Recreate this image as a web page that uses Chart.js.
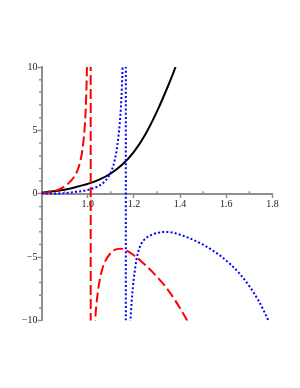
<!DOCTYPE html>
<html><head><meta charset="utf-8">
<script src="https://cdn.jsdelivr.net/npm/chart.js@4/dist/chart.umd.min.js"></script>
<style>html,body{margin:0;padding:0;background:#fff}</style>
</head><body>
<canvas id="c" width="300" height="388"></canvas>
<script>
// ---- data ----
const xTickValues = [1.0, 1.2, 1.4, 1.6, 1.8];
const xMinorTicks = [0.9, 1.1, 1.3, 1.5, 1.7];
const yTickValues = [-10, -5, 0, 5, 10];
const yMinorTicks = [-9, -8, -7, -6, -4, -3, -2, -1, 1, 2, 3, 4, 6, 7, 8, 9];

const blackX = [0.80, 0.85, 0.90, 0.95, 1.00, 1.05, 1.10, 1.15, 1.20, 1.25, 1.30, 1.35, 1.38, 1.40];
const blackY = [0.10, 0.19, 0.32, 0.53, 0.78, 1.12, 1.60, 2.30, 3.30, 4.70, 6.50, 8.60, 10.0, 11.2];

const redLeftX = [0.80, 0.84, 0.87, 0.90, 0.92, 0.94, 0.955, 0.965, 0.973, 0.98, 0.986, 0.991, 0.995, 0.9985, 1.003];
const redLeftY = [0.04, 0.14, 0.30, 0.58, 0.88, 1.30, 1.80, 2.35, 3.0, 3.9, 5.0, 6.5, 8.6, 11.5, 16];
const redJumpX = [1.013, 1.013];
const redJumpY = [16, -16];
const redRightX = [1.027, 1.032, 1.038, 1.045, 1.053, 1.063, 1.075, 1.09, 1.11, 1.13, 1.145, 1.16, 1.18, 1.20, 1.23, 1.26, 1.30, 1.34, 1.38, 1.41, 1.432, 1.45];
const redRightY = [-13, -10.2, -8.7, -7.6, -6.7, -5.95, -5.35, -4.9, -4.5, -4.35, -4.33, -4.42, -4.6, -4.85, -5.3, -5.8, -6.55, -7.4, -8.45, -9.35, -10.06, -10.7];

const blueLeftX = [0.80, 0.85, 0.90, 0.95, 1.00, 1.04, 1.07, 1.09, 1.105, 1.115, 1.125, 1.133, 1.139, 1.144, 1.148, 1.151, 1.156];
const blueLeftY = [0.01, 0.02, 0.05, 0.15, 0.30, 0.55, 0.90, 1.35, 1.9, 2.5, 3.4, 4.5, 5.6, 6.9, 8.4, 10.0, 13.5];
const blueJumpX = [1.165, 1.165];
const blueJumpY = [16, -16];
const blueRightX = [1.181, 1.185, 1.19, 1.196, 1.203, 1.211, 1.22, 1.232, 1.246, 1.27, 1.30, 1.33, 1.35, 1.38, 1.42, 1.46, 1.50, 1.54, 1.58, 1.62, 1.66, 1.70, 1.74, 1.78, 1.80];
const blueRightY = [-12.5, -10.2, -8.6, -7.3, -6.2, -5.2, -4.5, -3.95, -3.6, -3.3, -3.1, -3.02, -3.02, -3.12, -3.36, -3.66, -4.02, -4.46, -4.98, -5.6, -6.35, -7.3, -8.45, -9.92, -10.8];

// ---- build ----
const pts = (xs, ys) => xs.map((x, i) => ({x, y: ys[i]}));
const RED = '#ff0000', BLUE = '#0000ff', BLACK = '#000000', AXIS = '#909090';
const redStyle = {borderColor: RED, borderWidth: 2, borderDash: [10, 4]};
const blueStyle = {borderColor: BLUE, borderWidth: 2, borderDash: [2, 2.2]};
const mk = (xs, ys, style) => Object.assign({data: pts(xs, ys), pointRadius: 0, fill: false, cubicInterpolationMode: 'monotone'}, style);

const minorTicks = {
  id: 'minorTicks',
  afterDraw(chart) {
    const {ctx, scales: {x, y}} = chart;
    const y0 = y.getPixelForValue(0);
    ctx.save();
    ctx.strokeStyle = AXIS; ctx.lineWidth = 1.5;
    ctx.beginPath();
    xMinorTicks.forEach(v => { const px = x.getPixelForValue(v); ctx.moveTo(px, y0); ctx.lineTo(px, y0 - 2.5); });
    yMinorTicks.forEach(v => { const py = y.getPixelForValue(v); ctx.moveTo(y.right, py); ctx.lineTo(y.right - 2.5, py); });
    ctx.stroke();
    ctx.restore();
  }
};

const fontSpec = {family: '"Liberation Serif", "Times New Roman", serif', size: 10};

new Chart(document.getElementById('c'), {
  type: 'line',
  data: {
    datasets: [
      mk(blueLeftX, blueLeftY, blueStyle),
      Object.assign(mk(blueJumpX, blueJumpY, blueStyle), {cubicInterpolationMode: 'default', tension: 0}),
      mk(blueRightX, blueRightY, blueStyle),
      mk(redLeftX, redLeftY, redStyle),
      Object.assign(mk(redJumpX, redJumpY, redStyle), {cubicInterpolationMode: 'default', tension: 0}),
      mk(redRightX, redRightY, redStyle),
      mk(blackX, blackY, {borderColor: BLACK, borderWidth: 2})
    ]
  },
  options: {
    responsive: false,
    devicePixelRatio: 1,
    animation: false,
    parsing: false,
    layout: {padding: {left: 21.5, right: 27.5, top: 67, bottom: 67.5}},
    plugins: {legend: {display: false}, tooltip: {enabled: false}},
    scales: {
      x: {
        type: 'linear',
        min: 0.8, max: 1.8,
        position: {y: 0},
        afterBuildTicks: s => { s.ticks = xTickValues.map(v => ({value: v})); },
        ticks: {color: '#222', font: fontSpec, padding: 2, maxRotation: 0, autoSkip: false,
          callback: v => Number(v).toFixed(1)},
        grid: {drawOnChartArea: false, drawTicks: true, tickLength: 3, color: AXIS, tickWidth: 1.5},
        border: {display: true, color: AXIS, width: 2}
      },
      y: {
        type: 'linear',
        min: -10, max: 10,
        position: 'left',
        afterFit: s => { s.width = 20; },
        afterBuildTicks: s => { s.ticks = yTickValues.map(v => ({value: v})); },
        ticks: {color: '#222', font: fontSpec, padding: 0, autoSkip: false,
          callback: v => (v < 0 ? '\u2212' + Math.abs(v) : String(v))},
        grid: {drawOnChartArea: false, drawTicks: true, tickLength: 4, color: AXIS, tickWidth: 1.5},
        border: {display: true, color: AXIS, width: 2}
      }
    }
  },
  plugins: [minorTicks]
});
</script>
</body></html>
